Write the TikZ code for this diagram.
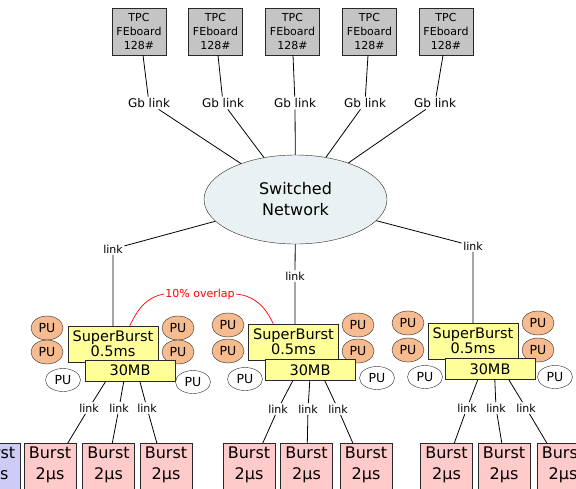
\documentclass[tikz,border=0pt]{standalone}
\usepackage{fontspec}
\setmainfont{DejaVu Sans}
\usetikzlibrary{shapes.geometric,calc}

\definecolor{tpcgray}{RGB}{196,196,196}
\definecolor{netfill}{RGB}{233,241,243}
\definecolor{sbyellow}{RGB}{255,255,153}
\definecolor{puorange}{RGB}{246,187,142}
\definecolor{burstpink}{RGB}{255,202,202}
\definecolor{burstblue}{RGB}{204,204,246}
\definecolor{edge}{RGB}{40,40,40}

\tikzset{
  tpcbox/.style={draw=edge, fill=tpcgray, minimum width=54pt, minimum height=47pt,
    inner sep=0pt, align=center, font=\fontsize{11}{14}\selectfont},
  glink/.style={font=\fontsize{12}{13}\selectfont, inner sep=1.5pt},
  lnk/.style={font=\fontsize{11}{12}\selectfont, inner sep=1.5pt},
  netnode/.style={ellipse, draw=edge, fill=netfill, minimum width=183pt, minimum height=89pt,
    inner sep=0pt, align=center, font=\fontsize{16}{21}\selectfont},
  sbbox/.style={draw=edge, fill=sbyellow, minimum width=90pt, minimum height=36pt,
    inner sep=0pt, align=center, font=\fontsize{14.5}{15}\selectfont},
  mbbox/.style={draw=edge, fill=sbyellow, minimum width=90pt, minimum height=21pt,
    inner sep=0pt, font=\fontsize{14.5}{15}\selectfont},
  pu/.style={ellipse, draw=edge, fill=puorange, minimum width=32pt, minimum height=24pt,
    inner sep=0pt, font=\fontsize{12.5}{13}\selectfont},
  wpu/.style={ellipse, draw=edge, fill=white, minimum width=35pt, minimum height=23pt,
    inner sep=0pt, font=\fontsize{12.5}{13}\selectfont},
  burstbox/.style={draw=edge, fill=burstpink, minimum width=52pt, minimum height=52pt,
    inner sep=0pt, anchor=north},
  bursttxt/.style={align=center, inner sep=0pt, font=\fontsize{16}{21}\selectfont},
  conn/.style={draw=black, line width=0.8pt},
  overlap/.style={draw=red, line width=0.7pt}
}

\begin{document}
\begin{tikzpicture}[x=1pt,y=-1pt]
\useasboundingbox[fill=white] (0,0) rectangle (576,488);

% front-end boards
\foreach \i/\x in {1/139,2/215.5,3/292.5,4/369.5,5/446}
  \node[tpcbox] (t\i) at (\x,31.5) {TPC\\FEboard\\128\#};

% switched network
\node[netnode] (net) at (295.5,199.5) {Switched\\Network};

% Gb link labels
\node[glink] (g1) at (149,103) {Gb link};
\node[glink] (g2) at (223,103) {Gb link};
\node[glink] (g3) at (295,103) {Gb link};
\node[glink] (g4) at (365,103) {Gb link};
\node[glink] (g5) at (435,103) {Gb link};

\draw[conn] ($(t1.south)+(4,0)$) -- (g1) -- (net);
\draw[conn] ($(t2.south)+(2.5,0)$) -- (g2) -- (net);
\draw[conn] ($(t3.south)+(0.5,0)$) -- (g3) -- (net);
\draw[conn] ($(t4.south)+(-1.5,0)$) -- (g4) -- (net);
\draw[conn] ($(t5.south)+(-3,0)$) -- (g5) -- (net);

% processing units (orange), behind the SuperBurst boxes
\node[pu] (p1a) at (47,328) {PU};
\node[pu] (p1b) at (47,352) {PU};
\node[pu] (p1c) at (178,328) {PU};
\node[pu] (p1d) at (178,352) {PU};
\node[pu] (p2a) at (228,325) {PU};
\node[pu] (p2b) at (228,351) {PU};
\node[pu] (p2c) at (358,325) {PU};
\node[pu] (p2d) at (358,351) {PU};
\node[pu] (p3a) at (408,323) {PU};
\node[pu] (p3b) at (408,350) {PU};
\node[pu] (p3c) at (538,323) {PU};
\node[pu] (p3d) at (538,350) {PU};

% SuperBurst buffers
\node[sbbox] (s1) at (113,344) {SuperBurst\\0.5ms};
\node[sbbox] (s2) at (293.5,342) {SuperBurst\\0.5ms};
\node[sbbox] (s3) at (473,341) {SuperBurst\\0.5ms};

\node[mbbox] (m1) at (130,370.5) {30MB};
\node[mbbox] (m2) at (310,370) {30MB};
\node[mbbox] (m3) at (490,369) {30MB};

% processing units (white)
\node[wpu] (w1a) at (63,380) {PU};
\node[wpu] (w1b) at (193,382) {PU};
\node[wpu] (w2a) at (245,379) {PU};
\node[wpu] (w2b) at (377,378) {PU};
\node[wpu] (w3a) at (425,377) {PU};
\node[wpu] (w3b) at (555,377) {PU};

% network to SuperBurst links
\node[lnk] (k1) at (113,249) {link};
\node[lnk] (k2) at (295,276) {link};
\node[lnk] (k3) at (473,246) {link};
\draw[conn] (net) -- (k1) -- (k1 |- s1.north);
\draw[conn] (net) -- (k2) -- (k2 |- s2.north);
\draw[conn] (net) -- (k3) -- (k3 |- s3.north);

% overlap annotation
\node[font=\fontsize{11}{12}\selectfont, text=red, inner sep=1pt] (ov) at (200,294) {10\% overlap};
\draw[overlap] (ov.west) to[out=190,in=65] ($(s1.north west)+(62,0)$);
\draw[overlap] (ov.east) to[out=-5,in=115] ($(s2.north west)+(25,0)$);

% Burst boxes
\node[burstbox, fill=burstblue] (b0) at (-6,443) {};
\node[bursttxt] at ($(b0.north)+(0,21.5)$) {Burst\\2μs};
\foreach \c/\xa/\xb/\xc in {1/50/108.5/166, 2/249/306.5/366, 3/446.5/504/563} {
  \node[burstbox] (b\c1) at (\xa,443) {};
  \node[burstbox] (b\c2) at (\xb,443) {};
  \node[burstbox] (b\c3) at (\xc,443) {};
  \node[bursttxt] at ($(b\c1.north)+(0,21.5)$) {Burst\\2μs};
  \node[bursttxt] at ($(b\c2.north)+(0,21.5)$) {Burst\\2μs};
  \node[bursttxt] at ($(b\c3.north)+(0,21.5)$) {Burst\\2μs};
}

% SuperBurst to Burst links
\node[lnk] (l11) at (89,408) {link};
\node[lnk] (l12) at (119,408) {link};
\node[lnk] (l13) at (147,408) {link};
\node[lnk] (l21) at (278,409) {link};
\node[lnk] (l22) at (308,409) {link};
\node[lnk] (l23) at (338,409) {link};
\node[lnk] (l31) at (467,408) {link};
\node[lnk] (l32) at (496,408) {link};
\node[lnk] (l33) at (526,408) {link};

\draw[conn] ($(m1.south west)+(21,0)$) -- (l11) -- ($(b11.north west)+(44,0)$);
\draw[conn] ($(m1.south west)+(39,0)$) -- (l12) -- ($(b12.north west)+(30,0)$);
\draw[conn] ($(m1.south west)+(55,0)$) -- (l13) -- ($(b13.north west)+(17,0)$);
\draw[conn] ($(m2.south west)+(28,0)$) -- (l21) -- ($(b21.north west)+(40,0)$);
\draw[conn] ($(m2.south west)+(45,0)$) -- (l22) -- ($(b22.north west)+(27,0)$);
\draw[conn] ($(m2.south west)+(60,0)$) -- (l23) -- ($(b23.north west)+(13,0)$);
\draw[conn] ($(m3.south west)+(33,0)$) -- (l31) -- ($(b31.north west)+(34,0)$);
\draw[conn] ($(m3.south west)+(50,0)$) -- (l32) -- ($(b32.north west)+(24,0)$);
\draw[conn] ($(m3.south west)+(64,0)$) -- (l33) -- ($(b33.north west)+(10,0)$);
\end{tikzpicture}
\end{document}
